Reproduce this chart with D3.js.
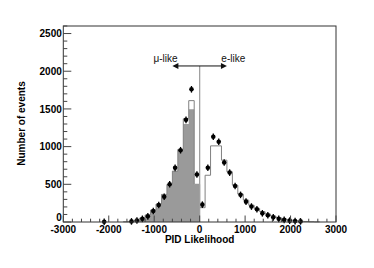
<!DOCTYPE html>
<html><head><meta charset="utf-8">
<script src="https://cdn.jsdelivr.net/npm/d3@7"></script>
<style>body{margin:0;background:#fff;} svg{display:block;} text{font-family:"Liberation Sans",Arial,Helvetica,sans-serif;}</style>
</head><body><svg id="c" width="374" height="268"></svg>
<script>
// ---- data ----
const binWidth = 120;
const mcCenters = [-1620,-1500,-1380,-1260,-1140,-1020,-900,-780,-660,-540,-420,-300,-180,-60,
  60,180,300,420,540,660,780,900,1020,1140,1260,1380,1500,1620,1740,1860,1980,2100,2220,2340,2460,2580];
const mcTotal = [3,10,25,53,93,159,238,366,498,675,962,1370,1610,500,
  190,620,1010,1010,820,666,488,370,290,222,180,137,106,78,56,40,28,18,12,7,4,2];
const muCenters = [-1620,-1500,-1380,-1260,-1140,-1020,-900,-780,-660,-540,-420,-300,-180,-60];
const muLike = [3,10,25,53,93,159,238,366,498,675,962,1300,1495,492];
const dataCenters = [-2100,-1500,-1380,-1260,-1140,-1020,-900,-780,-660,-540,-420,-300,-180,-60,
  60,180,300,420,540,660,780,900,1020,1140,1260,1380,1500,1620,1740,1860,1980,2100,2220];
const dataValues = [3,8,20,42,75,146,225,335,500,718,952,1355,1760,630,
  230,720,1130,1065,790,655,478,360,270,205,170,115,90,62,42,28,18,12,8];
const xTicks = [-3000,-2000,-1000,0,1000,2000,3000];
const yTicks = [0,500,1000,1500,2000,2500];
const xMinor = d3.range(-3000, 3001, 200);
const yMinor = d3.range(0, 2601, 100);
const yMax = 2600;
const arrowSpan = [-600, 600];
const arrowY = 2070;

// ---- layout ----
const L = 63.3, R = 336, T = 26, B = 222;
const svg = d3.select("#c");
const x = d3.scaleLinear().domain([-3000, 3000]).range([L, R]);
const y = d3.scaleLinear().domain([0, yMax]).range([B, T]);

// gray mu-like filled histogram
const muPts = [];
muCenters.forEach((c, i) => { muPts.push([c - binWidth/2, muLike[i]]); });
muPts.push([muCenters[muCenters.length-1] + binWidth/2, muLike[muLike.length-1]]);
svg.append("path")
  .attr("d", d3.area().curve(d3.curveStepAfter).x(d => x(d[0])).y0(y(0)).y1(d => y(d[1]))(muPts))
  .attr("fill", "#9a9a9a").attr("stroke", "none");

// total outline histogram
const totPts = [[mcCenters[0] - binWidth/2, 0]];
mcCenters.forEach((c, i) => {
  totPts.push([c - binWidth/2, mcTotal[i]]);
  totPts.push([c + binWidth/2, mcTotal[i]]);
});
totPts.push([mcCenters[mcCenters.length-1] + binWidth/2, 0]);
svg.append("path")
  .attr("d", d3.line().x(d => x(d[0])).y(d => y(d[1]))(totPts))
  .attr("fill", "none").attr("stroke", "#808080").attr("stroke-width", 1);

// divider line at 0
svg.append("line")
  .attr("x1", x(0)).attr("x2", x(0)).attr("y1", y(arrowY)).attr("y2", y(0))
  .attr("stroke", "#a0a0a0").attr("stroke-width", 1.3);

// arrow
const ay = y(arrowY);
svg.append("line").attr("x1", x(arrowSpan[0]) + 4).attr("x2", x(arrowSpan[1]) - 4)
  .attr("y1", ay).attr("y2", ay).attr("stroke", "#111").attr("stroke-width", 1);
const xl = x(arrowSpan[0]), xr = x(arrowSpan[1]);
svg.append("path").attr("d", `M${xl},${ay}L${xl+6},${ay-3}L${xl+6},${ay+3}Z`).attr("fill", "#111");
svg.append("path").attr("d", `M${xr},${ay}L${xr-6},${ay-3}L${xr-6},${ay+3}Z`).attr("fill", "#111");
svg.append("text").attr("x", x(-750)).attr("y", ay - 3.5).attr("text-anchor", "middle")
  .attr("font-size", 10).attr("fill", "#111").text("μ-like");
svg.append("text").attr("x", x(740)).attr("y", ay - 3.5).attr("text-anchor", "middle")
  .attr("font-size", 10).attr("fill", "#111").text("e-like");

// data points
const pts = svg.append("g");
dataCenters.forEach((c, i) => {
  const px = x(c), py = y(dataValues[i]);
  pts.append("line").attr("x1", px).attr("x2", px).attr("y1", py - 3.3).attr("y2", py + 3.3)
    .attr("stroke", "#000").attr("stroke-width", 1.3);
  pts.append("circle").attr("cx", px).attr("cy", py).attr("r", 2.3).attr("fill", "#000");
});

// frame
svg.append("rect").attr("x", L).attr("y", T).attr("width", R - L).attr("height", B - T)
  .attr("fill", "none").attr("stroke", "#333").attr("stroke-width", 1);

// ticks
const tg = svg.append("g").attr("stroke", "#444").attr("stroke-width", 1);
yMinor.filter(v => v <= yMax).forEach(v => {
  const major = v % 500 === 0;
  tg.append("line").attr("x1", L).attr("x2", L + (major ? 8 : 4)).attr("y1", y(v)).attr("y2", y(v));
});
xMinor.forEach(v => {
  const major = v % 1000 === 0;
  tg.append("line").attr("x1", x(v)).attr("x2", x(v)).attr("y1", B).attr("y2", B - (major ? 6.5 : 3.3));
});

// tick labels
yTicks.forEach(v => {
  svg.append("text").attr("x", L - 1.5).attr("y", y(v) + (v === 0 ? -1 : 3.6))
    .attr("text-anchor", "end").attr("font-size", 10).attr("font-weight", "bold").text(v);
});
xTicks.forEach(v => {
  svg.append("text").attr("x", x(v)).attr("y", B + 11).attr("text-anchor", "middle")
    .attr("font-size", 10).attr("font-weight", "bold").text(v);
});

// axis titles
svg.append("text").attr("x", x(0)).attr("y", 243).attr("text-anchor", "middle")
  .attr("font-size", 10).attr("font-weight", "bold").text("PID Likelihood");
svg.append("text").attr("transform", "translate(24.5,123.5) rotate(-90)").attr("text-anchor", "middle")
  .attr("font-size", 10).attr("font-weight", "bold").text("Number of events");
</script></body></html>
